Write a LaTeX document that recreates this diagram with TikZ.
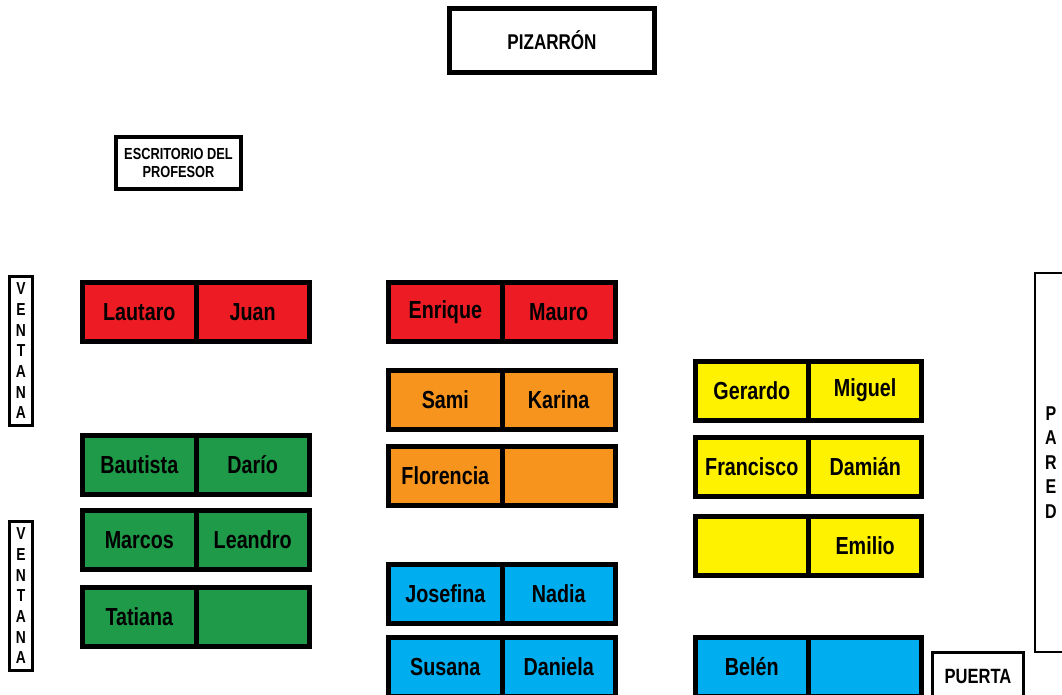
\documentclass[tikz,border=0pt]{standalone}
\usepackage{fontspec}
\setmainfont[FakeStretch=0.8]{Liberation Sans}
\definecolor{deskred}{HTML}{ED1C24}
\definecolor{deskorange}{HTML}{F7941D}
\definecolor{deskgreen}{HTML}{1E9A48}
\definecolor{deskblue}{HTML}{00AEEF}
\definecolor{deskyellow}{HTML}{FFF200}
\begin{document}
\begin{tikzpicture}[x=0.75pt,y=-0.75pt,
  seat/.style={draw,line width=3.75pt,outer sep=0pt,inner sep=0pt,minimum width=85pt,minimum height=44.25pt,font=\fontsize{18.5}{20}\selectfont\bfseries},
  tag/.style={draw,fill=white,outer sep=0pt,inner sep=0pt,align=center,font=\bfseries}]
\path[use as bounding box,clip] (0,0) rectangle (1062,694);
% pupitres: centro, color, izquierda, derecha
\foreach \x/\y/\col/\a/\b/\n in {196/312/deskred/Lautaro/Juan/d1, 196/465/deskgreen/Bautista/Darío/d2,
  196/540/deskgreen/Marcos/Leandro/d3, 196/616.5/deskgreen/Tatiana//d4,
  502/312/deskred/Enrique/Mauro/d5, 502/400/deskorange/Sami/Karina/d6,
  502/475.5/deskorange/Florencia//d7, 502/594/deskblue/Josefina/Nadia/d8,
  502/667/deskblue/Susana/Daniela/d9, 808.5/390.5/deskyellow/Gerardo/Miguel/d10,
  808.5/466.5/deskyellow/Francisco/Damián/d11, 808.5/545.5/deskyellow//Emilio/d12,
  808.5/667/deskblue/Belén//d13} {
  \node[seat,fill=\col,anchor=east] (\n-l) at (\x,\y) {\a};
  \node[seat,fill=\col,anchor=west] (\n-r) at (\x,\y) {\b};
}
\node[tag,line width=3.75pt,minimum width=153.75pt,minimum height=48pt,font=\fontsize{16}{18}\selectfont\bfseries] (pizarron) at (552,40.5) {PIZARRÓN};
\node[tag,line width=3pt,minimum width=93.75pt,minimum height=39pt,font=\fontsize{12}{14}\selectfont\bfseries] (escritorio) at (178.5,163) {ESCRITORIO DEL\\PROFESOR};
\foreach \y/\n in {351/ventana1,596/ventana2}
  \node[tag,line width=2.25pt,minimum width=17.25pt,minimum height=111.75pt,font=\fontsize{13}{15.5}\selectfont\bfseries] (\n) at (21,\y) {V\\E\\N\\T\\A\\N\\A};
\node[tag,line width=1.5pt,minimum width=24pt,minimum height=284.25pt,font=\fontsize{15}{18.4}\selectfont\bfseries] (pared) at (1051,462.5) {P\\A\\R\\E\\D};
\node[tag,line width=2.25pt,minimum width=68.25pt,minimum height=35.25pt,font=\fontsize{15.5}{18}\selectfont\bfseries] (puerta) at (978,676) {PUERTA};
\end{tikzpicture}
\end{document}
